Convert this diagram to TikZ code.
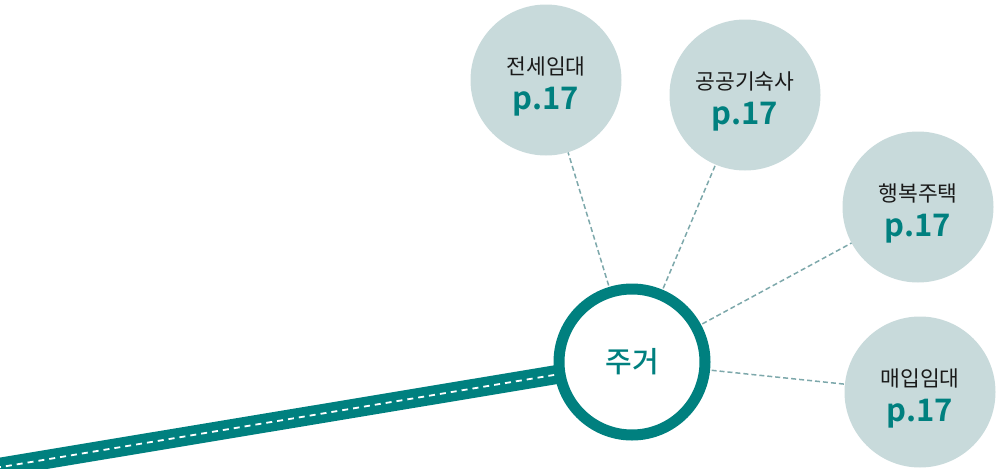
\documentclass[tikz,border=0pt]{standalone}
\usepackage{fontspec}
\setmainfont{Noto Sans CJK KR}[BoldFont={Noto Sans CJK KR Bold}]
\newfontfamily\krmed{Noto Sans CJK KR Medium}
\definecolor{teal}{HTML}{00807F}
\definecolor{satfill}{HTML}{C8DADB}
\definecolor{conncol}{HTML}{7DA8AB}
\definecolor{txt}{HTML}{1A1A1A}
\begin{document}
\begin{tikzpicture}[x=1pt,y=-1pt,
  sat/.style={circle,fill=satfill,minimum size=151pt,inner sep=0pt,align=center},
  mainc/.style={circle,draw=teal,line width=11pt,fill=white,minimum size=146pt,inner sep=0pt,
     text=teal,font=\krmed\fontsize{29}{31}\selectfont},
  conn/.style={draw=conncol,line width=1.5pt,dash pattern=on 5pt off 3pt},
  band/.style={draw=teal,line width=19pt},
  bandmid/.style={draw=white,line width=1.8pt,dash pattern=on 6pt off 5pt},
  lbl/.style={text=txt,font=\fontsize{21.5}{24}\selectfont},
  pg/.style={text=teal,font=\bfseries\fontsize{31}{33}\selectfont}]
\useasboundingbox (0,0) rectangle (997,469);
\coordinate (mc) at (632,362);
\coordinate (start) at (-5,468);
\draw[band] (start) -- (mc);
\draw[bandmid] (start) -- (mc);
\node[sat] (s1) at (546,80) {};
\node[sat] (s2) at (745,95) {};
\node[sat] (s3) at (918,207) {};
\node[sat] (s4) at (920,392) {};
\draw[conn] (mc) -- (s1);
\draw[conn] (mc) -- (s2);
\draw[conn] (mc) -- (s3);
\draw[conn] (mc) -- (s4);
\node[mainc] (main) at (mc) {주거};
\node[lbl] (t1) at (546,66) {전세임대};
\node[pg] (p1) at (546,102) {p.17};
\node[lbl] (t2) at (745,81) {공공기숙사};
\node[pg] (p2) at (745,117) {p.17};
\node[lbl] (t3) at (918,193) {행복주택};
\node[pg] (p3) at (918,229) {p.17};
\node[lbl] (t4) at (920,378) {매입임대};
\node[pg] (p4) at (920,414) {p.17};
\end{tikzpicture}
\end{document}
